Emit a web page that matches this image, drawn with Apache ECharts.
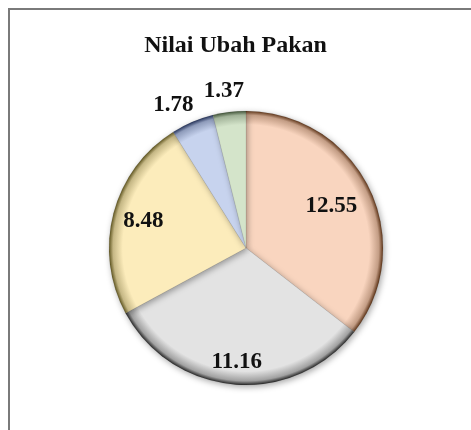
<!DOCTYPE html>
<html>
<head>
<meta charset="utf-8">
<script src="https://cdn.jsdelivr.net/npm/echarts@6/dist/echarts.min.js"></script>
<style>
  html, body { margin: 0; padding: 0; background: #fff; overflow: hidden; }
  #wrap { position: relative; width: 471px; height: 430px; overflow: hidden; }
  #frame {
    position: absolute; left: 8px; top: 8px; width: 600px; height: 600px;
    border-left: 2.5px solid #7a7a7a; border-top: 2.5px solid #7a7a7a;
  }
  #chart { position: absolute; left: 0; top: 0; width: 471px; height: 430px; }
</style>
</head>
<body>
<div id="wrap">
  <div id="frame"></div>
  <div id="chart"></div>
</div>
<script>
const titleText = "Nilai Ubah Pakan";
const values = [12.55, 11.16, 8.48, 1.78, 1.37];
const sliceColors = ["#f9d5bf", "#e3e3e3", "#fcecbb", "#c7d3ee", "#d4e4ca"];
const rimColors = ["#5e3519", "#262626", "#5f5520", "#25335a", "#42553a"];

// label distance from the centre and small extra nudge, per slice (px)
const labelDist = [95, 114, 106, 160, 158];
const labelNudge = [[0, 0], [0, 0], [0, 0], [-10, 4], [-3, 0]];

const CX = 246;
const CY = 248;
const R = 137;

function sliceFill(i) {
  return {
    type: "radial",
    x: CX,
    y: CY,
    r: R,
    global: true,
    colorStops: [
      { offset: 0, color: sliceColors[i] },
      { offset: 0.9, color: sliceColors[i] },
      { offset: 0.97, color: echarts.color.lerp(0.35, [sliceColors[i], rimColors[i]]) },
      { offset: 1, color: rimColors[i] },
    ],
  };
}

const chart = echarts.init(document.getElementById("chart"));

chart.setOption({
  animation: false,
  title: {
    text: titleText,
    left: "center",
    top: 29,
    textStyle: {
      fontFamily: "Liberation Serif",
      fontWeight: "bold",
      fontSize: 24,
      color: "#111",
    },
  },
  series: [
    {
      type: "pie",
      center: [CX, CY],
      radius: [0, R],
      startAngle: 90,
      clockwise: true,
      avoidLabelOverlap: false,
      data: values.map((v, i) => ({
        value: v,
        itemStyle: { color: sliceFill(i), borderColor: "rgba(0,0,0,0.12)", borderWidth: 0.6 },
      })),
      itemStyle: {
        shadowColor: "rgba(0,0,0,0.35)",
        shadowBlur: 6,
        shadowOffsetX: 1.5,
        shadowOffsetY: 2,
      },
      label: {
        show: true,
        position: "inside",
        formatter: (p) => p.value.toFixed(2),
        fontFamily: "Liberation Serif",
        fontWeight: "bold",
        fontSize: 23,
        color: "#111",
      },
      labelLine: { show: false },
      labelLayout: (params) => {
        const r = params.labelRect;
        const lx = r.x + r.width / 2;
        const ly = r.y + r.height / 2;
        const vx = lx - CX;
        const vy = ly - CY;
        const d = Math.sqrt(vx * vx + vy * vy) || 1;
        const k = labelDist[params.dataIndex] / d - 1;
        const n = labelNudge[params.dataIndex];
        return { dx: vx * k + n[0], dy: vy * k + n[1] };
      },
      emphasis: { disabled: true },
    },
  ],
});
</script>
</body>
</html>
